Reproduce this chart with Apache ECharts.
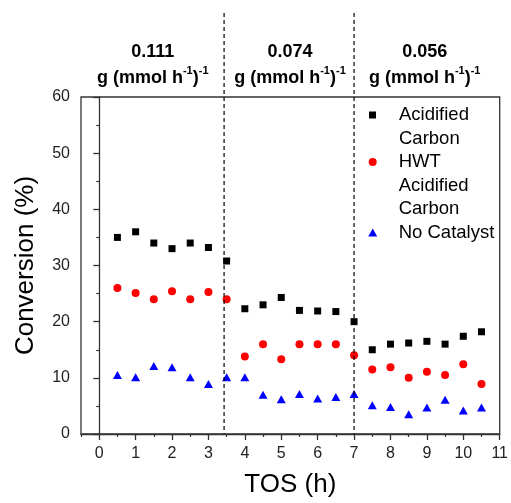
<!DOCTYPE html>
<html>
<head>
<meta charset="utf-8">
<script src="https://cdn.jsdelivr.net/npm/echarts@6/dist/echarts.min.js"></script>
<style>html,body{margin:0;padding:0;background:#fff;}#c{width:511px;height:503px;}</style>
</head>
<body>
<div id="c"></div>
<script>
var tos = [0.5, 1, 1.5, 2, 2.5, 3, 3.5, 4, 4.5, 5, 5.5, 6, 6.5, 7, 7.5, 8, 8.5, 9, 9.5, 10, 10.5];
var acidified = [35, 36, 34, 33, 34, 33.2, 30.8, 22.3, 23.0, 24.3, 22.0, 21.9, 21.8, 20.0, 15.0, 16.0, 16.2, 16.5, 16.0, 17.4, 18.2];
var hwt = [26, 25.1, 24, 25.4, 24, 25.3, 24, 13.8, 16, 13.3, 16, 16, 16, 14, 11.5, 11.9, 10, 11.1, 10.5, 12.4, 8.9];
var noCatalyst = [10.5, 10.1, 12.1, 11.9, 10.1, 8.9, 10.1, 10.1, 7.0, 6.2, 7.1, 6.3, 6.6, 7.1, 5.1, 4.8, 3.5, 4.7, 6.1, 4.2, 4.7];
var seriesNames = ['Acidified\nCarbon', 'HWT\nAcidified\nCarbon', 'No Catalyst'];
var xTicks = [0, 1, 2, 3, 4, 5, 6, 7, 8, 9, 10, 11];
var xMinorTicks = [-0.5, 0.5, 1.5, 2.5, 3.5, 4.5, 5.5, 6.5, 7.5, 8.5, 9.5, 10.5];
var dividers = [3.43, 7];
var loadings = ['0.111', '0.074', '0.056'];
var loadingCenters = [1.47, 5.24, 8.94];

var FONT = '"Liberation Sans", Arial, sans-serif';
var AX = '#333';
function pairs(ys) { return tos.map(function (x, i) { return [x, ys[i]]; }); }

var chart = echarts.init(document.getElementById('c'), null, {renderer: 'canvas'});
var L = 23.5;
function legendFor(name, icon, w, h, left, iconY, padLeft) {
  var n = name.split('\n').length;
  var blanks = new Array(n).join('\n');
  return {
    show: true, orient: 'vertical', left: left, top: iconY - (2 * n - 1) * L / 2, padding: 0,
    itemWidth: w, itemHeight: h, selectedMode: false,
    formatter: function (nm) { return blanks + nm; },
    data: [{name: name, icon: icon, textStyle: {padding: [0, 0, 0, padLeft]}}],
    textStyle: {fontFamily: FONT, fontSize: 18.5, color: '#000', lineHeight: L}
  };
}
var option = {
  animation: false,
  backgroundColor: '#fff',
  grid: {left: 81, right: 8, top: 97, bottom: 63, show: true, borderColor: AX, borderWidth: 1.3, containLabel: false},
  legend: [
    legendFor(seriesNames[0], 'rect', 7, 7, 369, 115, 18),
    legendFor(seriesNames[1], 'circle', 8, 8, 368.7, 162, 17),
    legendFor(seriesNames[2], 'triangle', 9, 8, 368.2, 232.5, 16.5)
  ],
  xAxis: [{
    type: 'value', min: -0.5, max: 11,
    name: 'TOS (h)', nameLocation: 'middle', nameGap: 38,
    nameTextStyle: {fontFamily: FONT, fontSize: 26, color: '#000'},
    axisLine: {show: true, lineStyle: {color: AX, width: 1.3}},
    axisTick: {show: true, length: 6, inside: false, lineStyle: {color: AX, width: 1.3}, customValues: xTicks},
    axisLabel: {fontFamily: FONT, fontSize: 16, color: '#222', margin: 12, customValues: xTicks},
    splitLine: {show: false}
  }, {
    type: 'value', min: -0.5, max: 11, position: 'bottom',
    axisLine: {show: false},
    axisTick: {show: true, length: 3, inside: false, lineStyle: {color: AX, width: 1.2}, customValues: xMinorTicks},
    axisLabel: {show: false},
    splitLine: {show: false}
  }],
  yAxis: {
    type: 'value', min: 0, max: 60, interval: 10,
    name: 'Conversion (%)', nameLocation: 'middle', nameGap: 42,
    nameTextStyle: {fontFamily: FONT, fontSize: 26, color: '#000'},
    axisLine: {show: true, lineStyle: {color: AX, width: 1.3}},
    axisTick: {show: true, length: 6, inside: false, lineStyle: {color: AX, width: 1.3}},
    minorTick: {show: true, splitNumber: 2, length: 3, lineStyle: {color: AX, width: 1.2}},
    axisLabel: {fontFamily: FONT, fontSize: 16, color: '#222', margin: 11},
    splitLine: {show: false}, minorSplitLine: {show: false}
  },
  series: [
    {name: seriesNames[0], type: 'scatter', symbol: 'rect', symbolSize: 7, itemStyle: {color: '#000', opacity: 1}, data: pairs(acidified)},
    {name: seriesNames[1], type: 'scatter', symbol: 'circle', symbolSize: 8, itemStyle: {color: '#ff0000', opacity: 1}, data: pairs(hwt)},
    {name: seriesNames[2], type: 'scatter', symbol: 'triangle', symbolSize: [9, 8], itemStyle: {color: '#0000ff', opacity: 1}, data: pairs(noCatalyst)}
  ]
};
chart.setOption(option);

var g = [];
dividers.forEach(function (d) {
  var p0 = chart.convertToPixel({gridIndex: 0}, [d, 0]);
  g.push({type: 'line', z: 10, shape: {x1: p0[0], y1: 13, x2: p0[0], y2: p0[1]},
    style: {stroke: '#000', lineWidth: 1.2, lineDash: [4, 3]}});
});
loadings.forEach(function (t, i) {
  var px = chart.convertToPixel({gridIndex: 0}, [loadingCenters[i], 0])[0];
  g.push({type: 'text', z: 10, x: px, y: 52, style: {text: t, textAlign: 'center', textVerticalAlign: 'middle',
    fontFamily: FONT, fontSize: 18, fontWeight: 'bold', fill: '#000'}});
  g.push({type: 'text', z: 10, x: px, y: 76, style: {
    text: '{n|g (mmol h}{s|-1}{n|)}{s|-1}', textAlign: 'center', textVerticalAlign: 'middle',
    rich: {
      n: {fontFamily: FONT, fontSize: 18, fontWeight: 'bold', fill: '#000', lineHeight: 22, verticalAlign: 'bottom'},
      s: {fontFamily: FONT, fontSize: 11, fontWeight: 'bold', fill: '#000', lineHeight: 22, verticalAlign: 'top'}
    }}});
});
chart.setOption({graphic: g});
</script>
</body>
</html>
